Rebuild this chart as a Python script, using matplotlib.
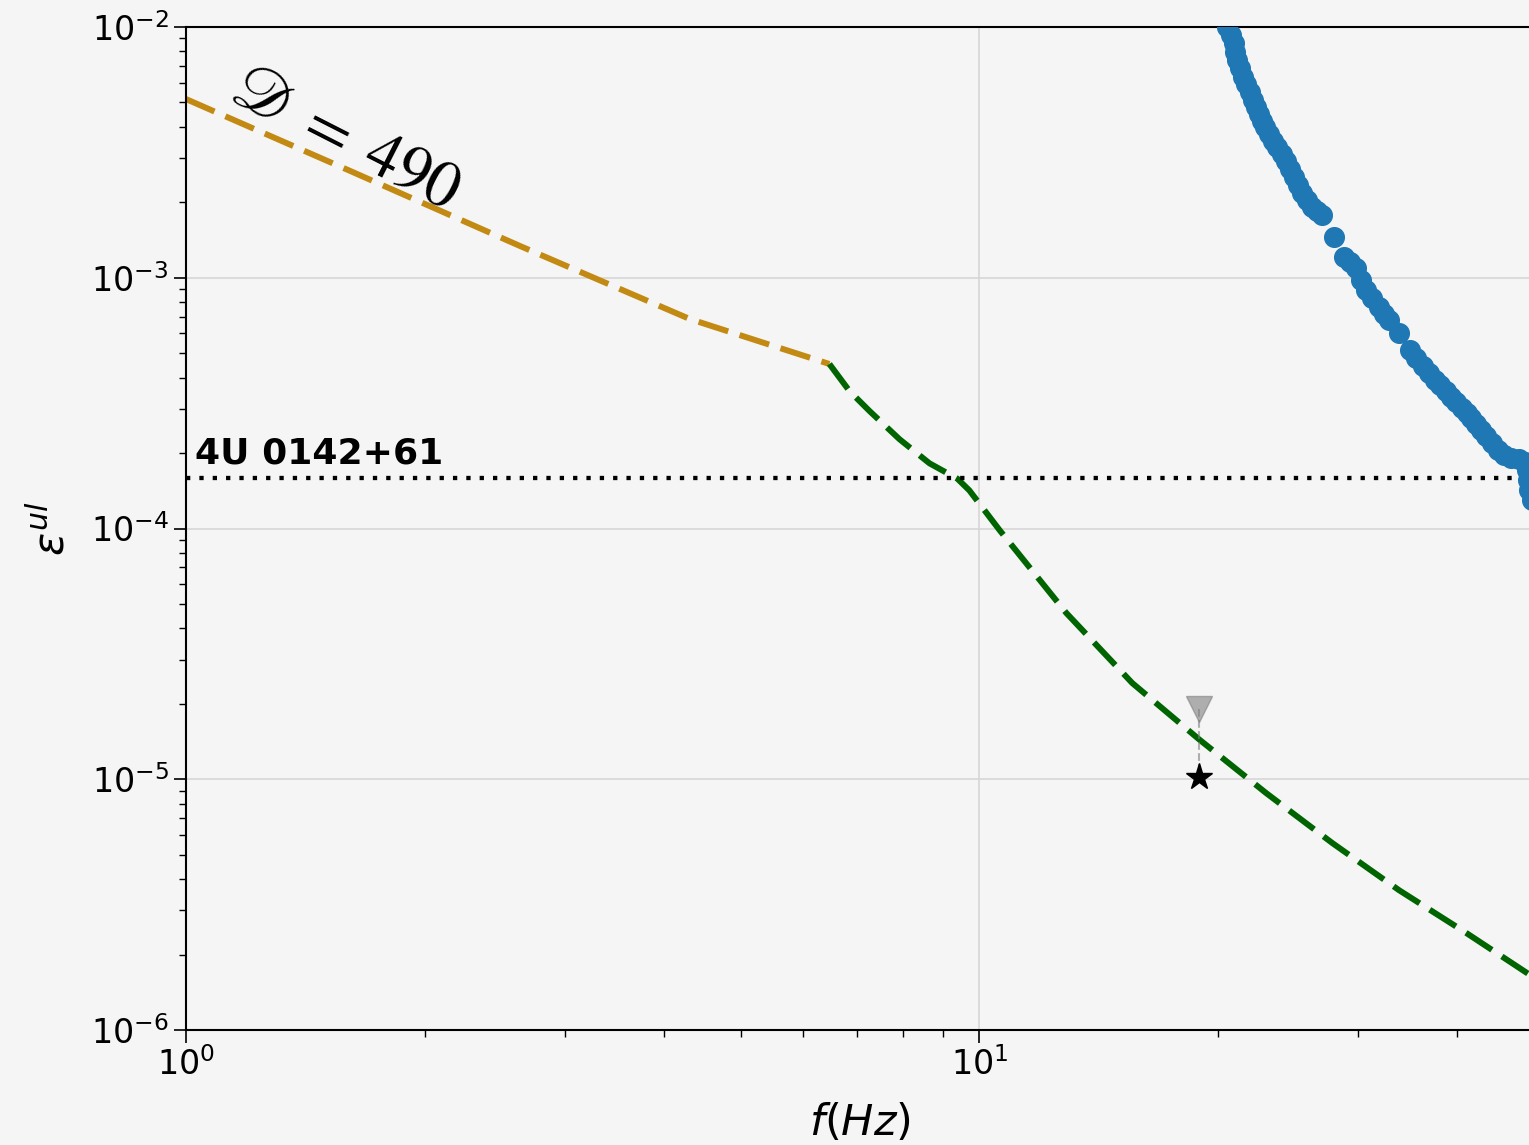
import matplotlib
matplotlib.use("Agg")
import matplotlib.pyplot as plt

# ---------------- data ----------------
# gold dashed segment (low frequency)
gold_f = [1.0, 1.609, 2.634, 4.313, 6.47]
gold_e = [5.16e-3, 2.67e-3, 1.34e-3, 6.85e-4, 4.53e-4]

# green dashed segment
green_f = [6.47, 6.86, 7.27, 7.93, 8.65, 9.38, 9.71, 10.60, 12.87, 15.58,
           18.93, 22.98, 27.84, 33.80, 41.06, 50.73]
green_e = [4.53e-4, 3.53e-4, 2.94e-4, 2.27e-4, 1.82e-4, 1.58e-4, 1.42e-4,
           9.86e-5, 4.60e-5, 2.42e-5, 1.44e-5, 8.81e-6, 5.57e-6, 3.61e-6,
           2.44e-6, 1.57e-6]

# blue scatter points
blue_f = [20.53, 20.77, 20.95, 21.01, 21.13, 21.32, 21.50, 21.69, 21.95, 22.14,
          22.33, 22.53, 22.72, 22.92, 23.19, 23.45, 23.73, 24.08, 24.36, 24.65,
          24.94, 25.22, 25.52, 25.89, 26.26, 26.65, 27.04,
          28.00,
          28.82, 29.32, 29.84, 30.28, 30.72, 31.26, 31.90, 32.37, 32.84,
          33.80,
          34.90, 35.51, 36.24, 36.88, 37.52, 38.07, 38.74, 39.30, 39.88, 40.58,
          41.18, 41.66, 42.27, 42.88, 43.51, 44.27, 45.05, 45.84, 46.77, 47.86,
          48.71, 49.00, 49.14, 49.28, 49.71]
blue_e = [1.00e-2, 9.29e-3, 8.63e-3, 7.95e-3, 7.39e-3, 6.86e-3, 6.32e-3, 5.93e-3, 5.51e-3, 5.12e-3,
          4.80e-3, 4.50e-3, 4.22e-3, 3.99e-3, 3.74e-3, 3.51e-3, 3.32e-3, 3.12e-3, 2.92e-3, 2.71e-3,
          2.52e-3, 2.34e-3, 2.18e-3, 2.04e-3, 1.91e-3, 1.85e-3, 1.78e-3,
          1.45e-3,
          1.21e-3, 1.16e-3, 1.09e-3, 9.79e-4, 8.94e-4, 8.30e-4, 7.64e-4, 7.17e-4, 6.78e-4,
          6.02e-4,
          5.15e-4, 4.79e-4, 4.45e-4, 4.17e-4, 3.91e-4, 3.74e-4, 3.53e-4, 3.35e-4, 3.20e-4, 3.02e-4,
          2.89e-4, 2.76e-4, 2.61e-4, 2.47e-4, 2.34e-4, 2.19e-4, 2.06e-4, 1.96e-4, 1.91e-4, 1.89e-4,
          1.84e-4, 1.71e-4, 1.56e-4, 1.42e-4, 1.30e-4]

# source limit
source_name = "4U 0142+61"
source_eps = 1.59e-4
star_f, star_e = 18.93, 1.02e-5
tri_f, tri_e = 18.93, 1.91e-5

D_label = r"$\mathscr{D}\;=\;490$"

# ---------------- figure ----------------
plt.rcParams["mathtext.fontset"] = "dejavusans"
bg = "#f5f5f5"
fig = plt.figure(figsize=(15.29, 11.45), dpi=100, facecolor=bg)
ax = fig.add_axes([186/1529, 1 - 1030/1145, 1348/1529, 1003/1145])
ax.set_facecolor(bg)
ax.set_xscale("log")
ax.set_yscale("log")
ax.set_xlim(1, 50)
ax.set_ylim(1e-6, 1e-2)

ax.grid(True, which="major", color="#d6d6d6", lw=1.2)
ax.set_axisbelow(True)

lw = 4.3
dash = (5.2, 2.0)
ax.plot(gold_f, gold_e, color="#c28a12", lw=lw, linestyle=(0, dash),
        dash_capstyle="butt")
ax.plot(green_f, green_e, color="#006400", lw=lw, linestyle=(0, dash),
        dash_capstyle="butt")

ax.scatter(blue_f, blue_e, s=200, color="#1f77b4", zorder=3, clip_on=True)

ax.axhline(source_eps, color="black", lw=3.1, linestyle=(0, (1, 2.1)))
ax.text(1.027, 1.82e-4, source_name, fontsize=26, fontweight="bold",
        ha="left", va="baseline")

ax.plot([tri_f, star_f], [tri_e, star_e], color="gray", lw=1.5, ls="--", alpha=0.6)
ax.plot([tri_f], [tri_e], marker="v", ms=19, color="gray", alpha=0.6, ls="none")
ax.plot([star_f], [star_e], marker="*", ms=20, color="black", ls="none")

ax.text(1.13, 5.15e-3, D_label, fontsize=47, rotation=-27,
        rotation_mode="anchor", ha="left", va="baseline",
        math_fontfamily="stix")

ax.set_xlabel(r"$f(Hz)$", fontsize=31, labelpad=14)
ax.set_ylabel(r"$\varepsilon^{ul}$", fontsize=31, labelpad=12)

ax.tick_params(axis="both", which="major", labelsize=24, length=9, width=1.2)
ax.tick_params(axis="both", which="minor", length=5, width=1.0)
for s in ax.spines.values():
    s.set_linewidth(1.5)

fig.savefig("out.png", dpi=100, facecolor=bg)
